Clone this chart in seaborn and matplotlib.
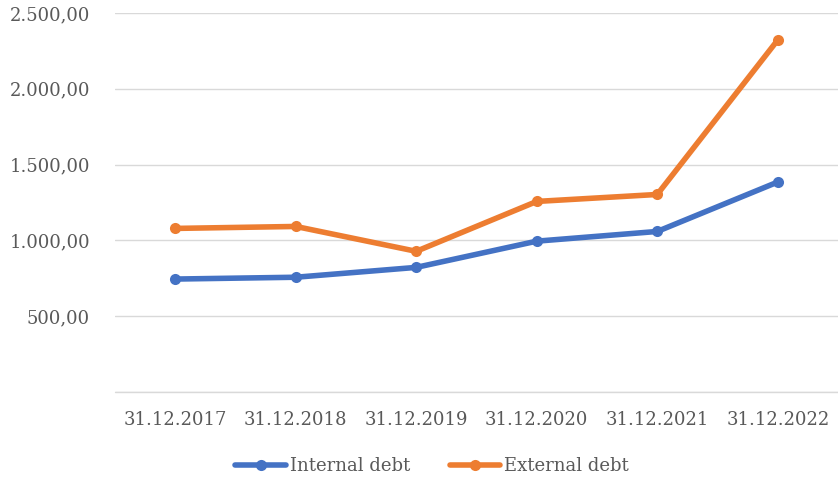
import pandas as pd
import matplotlib.pyplot as plt
import seaborn as sns
from matplotlib.ticker import FuncFormatter

# Datos
fechas = ['31.12.2017', '31.12.2018', '31.12.2019', '31.12.2020', '31.12.2021', '31.12.2022']
deuda_interna = [745, 757, 822, 995, 1059, 1385]
deuda_externa = [1079, 1092, 928, 1257, 1303, 2322]
series = ['Internal debt', 'External debt']
colores = ['#4472C4', '#ED7D31']

df = pd.DataFrame({
    'fecha': fechas * 2,
    'valor': deuda_interna + deuda_externa,
    'serie': [series[0]] * len(fechas) + [series[1]] * len(fechas),
})

sns.set_style('white')
plt.rcParams['font.family'] = ['DejaVu Serif']
gris = '#595959'

fig = plt.figure(figsize=(8.38, 4.8), dpi=100)
ax = fig.add_axes([115 / 838, 1 - 392 / 480, 723 / 838, 379 / 480])

sns.lineplot(data=df, x='fecha', y='valor', hue='serie', palette=colores,
             marker='o', markersize=8, markeredgewidth=0, linewidth=4,
             sort=False, ax=ax)

ax.set_xlim(-0.5, len(fechas) - 0.5)
ax.set_ylim(0, 2500)
ax.set_yticks([0, 500, 1000, 1500, 2000, 2500])


def formato_es(v, pos):
    if v == 0:
        return ''
    s = f'{v:,.2f}'
    return s.replace(',', 'X').replace('.', ',').replace('X', '.')


ax.yaxis.set_major_formatter(FuncFormatter(formato_es))
ax.grid(axis='y', color='#D9D9D9', linewidth=1)
ax.axhline(0, color='#D9D9D9', linewidth=1, clip_on=False, zorder=0)
ax.set_axisbelow(True)
for lado in ax.spines.values():
    lado.set_visible(False)
ax.tick_params(axis='both', length=0, labelsize=13, colors=gris)
ax.tick_params(axis='y', pad=18)
ax.tick_params(axis='x', pad=14)
ax.set_xlabel('')
ax.set_ylabel('')

ax.legend(loc='center', bbox_to_anchor=(432 / 838, 1 - 466 / 480),
          bbox_transform=fig.transFigure, ncol=2, frameon=False,
          fontsize=13, labelcolor=gris, handlelength=2.8, handletextpad=0.2,
          columnspacing=2.2)

plt.savefig('out.png', dpi=100)
